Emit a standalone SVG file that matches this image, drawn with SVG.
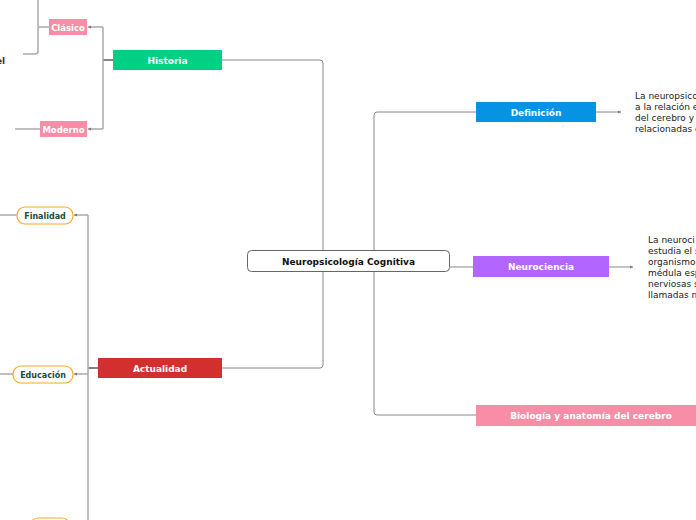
<svg xmlns="http://www.w3.org/2000/svg" width="696" height="520" viewBox="0 0 696 520">
<defs>
<marker id="ar" markerWidth="4" markerHeight="4" refX="3" refY="2" orient="auto" markerUnits="userSpaceOnUse"><path d="M0,0.5 L3,2 L0,3.5 Z" fill="#777"/></marker>
</defs>
<style>
.ln{fill:none;stroke:#888;stroke-width:1}
.lg{fill:none;stroke:#aaa;stroke-width:1.5}
.dk{fill:none;stroke:#333;stroke-width:1.2}
.lb{font-family:"DejaVu Sans",Verdana,sans-serif;font-weight:bold;font-size:9px;fill:#fff;text-anchor:middle}
.pl{font-family:"DejaVu Sans",Verdana,sans-serif;font-weight:bold;font-size:8px;fill:#1b4d40;text-anchor:middle}
.tx{font-family:"DejaVu Sans",Verdana,sans-serif;font-size:9px;fill:#222}
.pill{fill:#fff;stroke:#fca72b;stroke-width:1.2}
</style>
<rect width="696" height="520" fill="#fff"/>
<g id="connectors">
<path class="ln" d="M222,60 H320 Q323,60 323,63 V250"/>
<path class="ln" d="M222,368 H320 Q323,368 323,365 V272"/>
<path class="ln" d="M374,250 V115 Q374,112 377,112 H476"/>
<path class="ln" d="M374,272 V412 Q374,415 377,415 H476"/>
<path class="ln" d="M450,267 H473"/>
<path class="ln" d="M596,112 H621" marker-end="url(#ar)"/>
<path class="ln" d="M609,267 H633" marker-end="url(#ar)"/>
<path class="dk" d="M113,60 H103"/>
<path class="lg" d="M103,27 V129"/>
<path class="lg" d="M103,27 H88" marker-end="url(#ar)"/>
<path class="lg" d="M103,129 H88" marker-end="url(#ar)"/>
<path class="lg" d="M49,27 H38"/>
<path class="lg" d="M38,0 V51 Q38,54 35,54 H23"/>
<path class="lg" d="M40,129 H15"/>
<path class="dk" d="M98,368 H88"/>
<path class="lg" d="M88,215 V520"/>
<path class="lg" d="M88,215 H74" marker-end="url(#ar)"/>
<path class="lg" d="M88,374 H74" marker-end="url(#ar)"/>
<path class="lg" d="M17,215 H0"/>
<path class="lg" d="M13,374 H0"/>
</g>
<g id="central">
<rect x="247.5" y="250.5" width="202" height="21" rx="4" fill="#fff" stroke="#666" stroke-width="1"/>
<text x="348.5" y="264.5" class="lb" style="fill:#111">Neuropsicología Cognitiva</text>
</g>
<g id="historia">
<rect x="113" y="50" width="109" height="20" fill="#00d084"/>
<text x="167.5" y="64" class="lb">Historia</text>
</g>
<g id="actualidad">
<rect x="98" y="358" width="124" height="20" fill="#d32f2f"/>
<text x="160" y="372" class="lb">Actualidad</text>
</g>
<g id="definicion">
<rect x="476" y="102" width="120" height="20" fill="#0693e3"/>
<text x="536" y="116" class="lb">Definición</text>
</g>
<g id="definicion-texto">
<text class="tx"><tspan x="635" y="99">La neuropsico</tspan><tspan x="635" y="110">a la relación e</tspan><tspan x="635" y="121">del cerebro y</tspan><tspan x="635" y="132">relacionadas c</tspan></text>
</g>
<g id="neurociencia">
<rect x="473" y="256" width="136" height="21" fill="#b266ff"/>
<text x="541" y="270" class="lb">Neurociencia</text>
</g>
<g id="neurociencia-texto">
<text class="tx"><tspan x="648" y="243">La neuroci</tspan><tspan x="648" y="254">estudia el s</tspan><tspan x="648" y="265">organismo,</tspan><tspan x="648" y="276">médula esp</tspan><tspan x="648" y="287">nerviosas s</tspan><tspan x="648" y="298">llamadas n</tspan></text>
</g>
<g id="biologia">
<rect x="476" y="405" width="230" height="21" fill="#f78da7"/>
<text x="591" y="419" class="lb">Biología y anatomía del cerebro</text>
</g>
<g id="clasico">
<rect x="49" y="19" width="38" height="16" fill="#f78da7"/>
<text x="68" y="30.5" class="lb" style="font-size:8.5px">Clásico</text>
</g>
<g id="moderno">
<rect x="40" y="121" width="47" height="16" fill="#f78da7"/>
<text x="63.5" y="132.5" class="lb" style="font-size:8.5px">Moderno</text>
</g>
<g id="el">
<text x="-4" y="64" class="tx" style="font-weight:bold;fill:#333">el</text>
</g>
<g id="finalidad">
<rect x="17" y="207" width="56" height="17" rx="8" class="pill"/>
<text x="45" y="218.5" class="pl">Finalidad</text>
</g>
<g id="educacion">
<rect x="13" y="366" width="60" height="17" rx="8" class="pill"/>
<text x="43" y="377.5" class="pl">Educación</text>
</g>
<g id="tercero">
<rect x="30" y="518" width="40" height="17" rx="8" class="pill"/>
</g>
</svg>
